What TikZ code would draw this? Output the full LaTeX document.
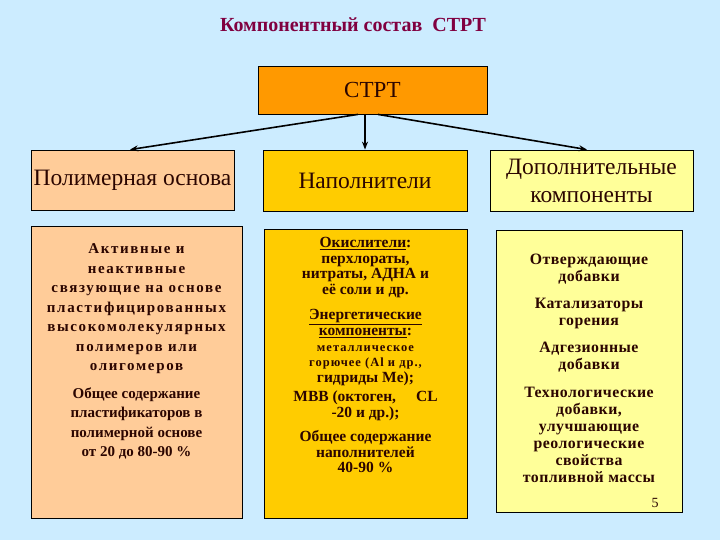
\documentclass[tikz,border=0pt]{standalone}
\usepackage{fontspec}
\setmainfont{Liberation Serif}
\newfontfamily\spacedserif{Liberation Serif}[LetterSpace=11]
\newfontfamily\smallspaced{Liberation Serif}[LetterSpace=8]
\newfontfamily\lightspaced{Liberation Serif}[LetterSpace=3]
\newcommand\tightlines{\lineskiplimit=-20pt\relax}
\usepackage{xcolor}
\usetikzlibrary{positioning, arrows.meta}
\definecolor{sky}{HTML}{CCECFF}
\definecolor{plum}{HTML}{800040}
\definecolor{ink}{HTML}{2B0500}
\definecolor{amber}{HTML}{FF9900}
\definecolor{peach}{HTML}{FFCC99}
\definecolor{gold}{HTML}{FFCC00}
\definecolor{lemon}{HTML}{FFFF99}

\tikzset{
  box/.style={rectangle, draw=black, line width=0.8pt, inner sep=0pt},
  headbox/.style={box, text=ink, align=center, font=\fontsize{23.5}{28}\selectfont},
  bodytext/.style={inner sep=0pt, align=center, text=ink, font=\bfseries\fontsize{15}{19.5}\selectfont},
  link/.style={line width=1.6pt, -{Stealth[length=8pt, width=6pt]}},
}

\begin{document}
\begin{tikzpicture}[x=1pt, y=-1pt]
  % Background
  \fill[sky] (0,0) rectangle (720,540);

  % Title
  \node[font=\bfseries\fontsize{20}{24}\selectfont, text=plum] (title) at (353,25) {Компонентный состав\ \ СТРТ};

  % Root
  \node[box, fill=amber, text=ink, minimum width=229pt, minimum height=48pt, font=\fontsize{23}{26}\selectfont] (strt) at (372.5,90) {СТРТ};

  % Headers
  \node[headbox, fill=peach, minimum width=203pt, minimum height=60pt] (polyhead) at (132.5,180) {Полимерная основа};
  \node[headbox, fill=gold, minimum width=204pt, minimum height=61pt] (fillhead) at (365,180.5) {Наполнители};
  \node[headbox, fill=lemon, minimum width=203pt, minimum height=61pt] (extrahead) at (591.5,180.5) {Дополнительные\\компоненты};

  % Bodies
  \node[box, fill=peach, minimum width=211pt, minimum height=292pt] (polybody) at (136.5,372) {};
  \node[box, fill=gold, minimum width=203pt, minimum height=289pt] (fillbody) at (365.5,373.5) {};
  \node[box, fill=lemon, minimum width=186pt, minimum height=282pt] (extrabody) at (589,371) {};

  % Body texts
  \node[bodytext, font=\spacedserif\bfseries\fontsize{15}{19.5}\selectfont, below=18pt of polybody.north] (polytext) {Активные и\\неактивные\\связующие на основе\\пластифицированных\\высокомолекулярных\\полимеров или\\олигомеров};
  \node[bodytext, below=13pt of polytext] (polynote) {Общее содержание\\пластификаторов в\\полимерной основе\\от 20 до 80-90 \%};

  \node[bodytext, font=\bfseries\fontsize{15.5}{15.6}\selectfont\tightlines, below=8.5pt of fillbody.north] (filltext) {\underline{Окислители}:\\перхлораты,\\нитраты, АДНА и\\её соли и др.\\[10pt]\underline{Энергетические}\\\underline{компоненты}:\\{\smallspaced\bfseries\fontsize{12.5}{14}\selectfont металлическое}\\{\smallspaced\bfseries\fontsize{12.5}{14}\selectfont горючее (Al и др.,}\\гидриды Me);\\[3.5pt]МВВ (октоген,\hspace{20pt}CL\\-20 и др.);\\[9pt]Общее содержание\\наполнителей\\40-90 \%};

  \node[bodytext, font=\lightspaced\bfseries\fontsize{15.8}{17}\selectfont\tightlines, below=24pt of extrabody.north] (extratext) {Отверждающие\\добавки\\[10pt]Катализаторы\\горения\\[10pt]Адгезионные\\добавки\\[11pt]Технологические\\добавки,\\улучшающие\\реологические\\свойства\\топливной массы};
  \node[text=ink, font=\fontsize{14}{16}\selectfont] (pageno) at (655,503) {5};

  % Arrows
  \draw[link] (fillhead.north |- strt.south) -- (fillhead.north);
  \draw[link] ([xshift=-14.5pt]strt.south) -- ([xshift=-2.5pt]polyhead.north);
  \draw[link] ([xshift=5.5pt]strt.south) -- ([xshift=-4.5pt]extrahead.north);
\end{tikzpicture}
\end{document}
